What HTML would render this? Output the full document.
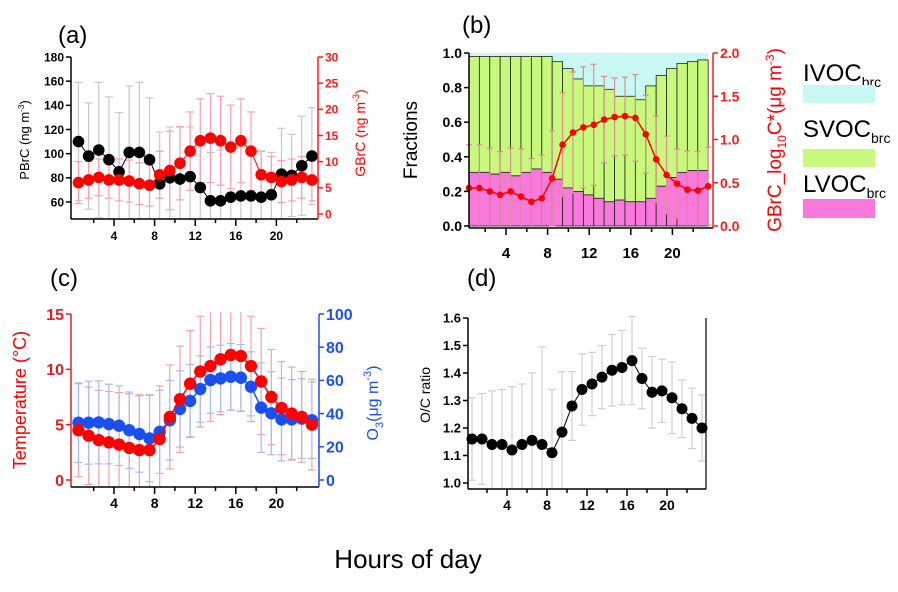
<!DOCTYPE html>
<html><head><meta charset="utf-8"><style>
html,body{margin:0;padding:0;background:#fff;}
svg{display:block;font-family:"Liberation Sans",Arial,sans-serif;}
</style></head><body>
<svg id="fig" width="898" height="592" viewBox="0 0 898 592" xmlns="http://www.w3.org/2000/svg">
<text x="408" y="568" font-size="26" text-anchor="middle">Hours of day</text>
<text x="58" y="43" font-size="24">(a)</text>
<text x="462" y="33" font-size="24">(b)</text>
<text x="50" y="286" font-size="24">(c)</text>
<text x="467" y="286" font-size="24">(d)</text>
<g>
<text x="803" y="81" font-size="24">IVOC<tspan font-size="14" dy="6">brc</tspan></text>
<rect x="803" y="85" width="72" height="18" fill="#c8f8f4"/>
<text x="803" y="137" font-size="24">SVOC<tspan font-size="14" dy="6">brc</tspan></text>
<rect x="803" y="149" width="72" height="18" fill="#c8f87c"/>
<text x="803" y="192" font-size="24">LVOC<tspan font-size="14" dy="6">brc</tspan></text>
<rect x="803" y="199" width="72" height="19" fill="#f878dc"/>
</g>
</svg>
<script>
const hours = [1,2,3,4,5,6,7,8,9,10,11,12,13,14,15,16,17,18,19,20,21,22,23,24];
const xTicks = [4,8,12,16,20];
// panel a
const pbrc = [110,98,103,95,85,101,101,95,75,80,79,81,72,61,61,64,65,65,64,66,83,82,90,98];
const pbrcErr = [49,44,56,52,49,55,58,51,43,42,43,41,42,40,42,40,40,40,38,35,38,34,41,40];
const gbrc = [6,6.5,7,6.5,6.5,6.3,5.8,5.5,7.5,8.3,9.7,12,14,14.5,14,12.8,14,12,7.5,7,6.2,6.5,7,6.5];
const gbrcErr = [4,3.5,3.5,3.5,4,4,4,4,4.5,7.5,7,7.5,8,8.5,8.5,8,8,7.5,4.5,4,4,4,4,4];
const aLeftTicks = [60,80,100,120,140,160,180];
const aRightTicks = [0,5,10,15,20,25,30];
// panel b
const lvoc = [0.31,0.31,0.30,0.31,0.29,0.31,0.33,0.31,0.27,0.22,0.20,0.18,0.16,0.14,0.15,0.14,0.14,0.16,0.23,0.28,0.31,0.32,0.32];
const svocTotal = [0.98,0.98,0.98,0.98,0.98,0.98,0.98,0.98,0.95,0.91,0.85,0.81,0.81,0.79,0.75,0.75,0.73,0.81,0.87,0.91,0.94,0.95,0.96];
const gbrcLog = [0.44,0.44,0.40,0.36,0.40,0.34,0.28,0.32,0.55,0.94,1.08,1.14,1.17,1.23,1.26,1.27,1.25,1.06,0.77,0.59,0.49,0.42,0.41,0.46];
const gbrcLogErr = [0.5,0.5,0.5,0.5,0.5,0.55,0.5,0.5,0.55,0.6,0.7,0.7,0.7,0.5,0.45,0.45,0.5,0.45,0.5,0.45,0.4,0.45,0.45,0.45];
const bLeftTicks = [0,0.2,0.4,0.6,0.8,1.0];
const bRightTicks = [0,0.5,1.0,1.5,2.0];
// panel c
const temp = [4.5,4.0,3.6,3.4,3.2,2.9,2.7,2.7,3.7,5.7,7.3,8.7,9.8,10.3,10.9,11.3,11.2,10.3,8.9,7.5,6.5,6.0,5.7,5.0];
const tempErr = [4.2,4.4,4.5,4.6,4.7,4.9,5,5,4.8,4.7,4.8,4.8,5,5,5,5,5,4.5,4.8,4.3,4.2,4.2,4.1,4.1];
const o3 = [34.5,34.5,34.7,33.7,32.7,30,27.7,25,29,36,42.8,47.6,54.8,60.2,61.2,62.2,61.6,56.2,43.6,40.2,36.5,36.5,37,36];
const o3Err = [24,25,25,24,24,23,23,26,25,24,23,22,20,20,20,20,20,21,27,25,25,24,24,23];
const cLeftTicks = [0,5,10,15];
const cRightTicks = [0,20,40,60,80,100];
// panel d
const oc = [1.16,1.16,1.14,1.14,1.12,1.14,1.155,1.14,1.11,1.185,1.28,1.34,1.36,1.385,1.41,1.42,1.445,1.38,1.33,1.335,1.31,1.27,1.235,1.20];
const ocErr = [0.15,0.165,0.195,0.2,0.23,0.22,0.245,0.355,0.23,0.22,0.125,0.13,0.115,0.115,0.13,0.135,0.16,0.11,0.13,0.115,0.13,0.105,0.11,0.12];
const dLeftTicks = [1.0,1.1,1.2,1.3,1.4,1.5,1.6];

const svg = document.getElementById('fig');
const NS = 'http://www.w3.org/2000/svg';
function mk(tag, attrs, parent){const e=document.createElementNS(NS,tag);for(const k in attrs)e.setAttribute(k,attrs[k]);(parent||svg).appendChild(e);return e;}
function clamp(v,a,b){return Math.max(a,Math.min(b,v));}

function axes(o){
  let g = mk('g',{});
  
  
  let l = mk('line',{x1:o.x0,y1:o.yTop,x2:o.x0,y2:o.yBottom,stroke:o.leftColor,'stroke-width':1.5},g);
  
  
  let b = mk('line',{x1:o.x0,y1:o.yBottom,x2:o.x1,y2:o.yBottom,stroke:'#000','stroke-width':1.5},g);
  
  
  if(o.rightColor){
    let r = mk('line',{x1:o.x1,y1:o.yTop,x2:o.x1,y2:o.yBottom,stroke:o.rightColor,'stroke-width':1.5},g);
    
    
  }
  o.leftTicks.forEach(v=>{
    const y=o.yl(v);
    mk('line',{x1:o.x0-5,y1:y,x2:o.x0,y2:y,stroke:o.leftColor,'stroke-width':1.5},g);
    let t=mk('text',{x:o.x0-7,y:y+o.fs*0.36,'font-size':o.fs,'font-weight':'bold','text-anchor':'end',fill:o.leftColor},g);
    t.textContent=o.fmtL(v);
    
    
  });
  if(o.rightTicks){
    o.rightTicks.forEach(v=>{
      const y=o.yr(v);
      mk('line',{x1:o.x1,y1:y,x2:o.x1+5,y2:y,stroke:o.rightColor,'stroke-width':1.5},g);
      let t=mk('text',{x:o.x1+7,y:y+o.fs*0.36,'font-size':o.fs,'font-weight':'bold','text-anchor':'start',fill:o.rightColor},g);
      t.textContent=o.fmtR(v);
      
      
    });
  }
  for(let t=2;t<=22;t+=2){
    const x=o.xs(t); if(x>o.x1) continue;
    const major = t%4===0;
    mk('line',{x1:x,y1:o.yBottom,x2:x,y2:o.yBottom+(major?7:4),stroke:'#000','stroke-width':1.5},g);
  }
  xTicks.forEach(t=>{
    let tx=mk('text',{x:o.xs(t),y:o.labelY,'font-size':o.xfs||o.fs,'font-weight':'bold','text-anchor':'middle'},g);
    tx.textContent=String(t);
    
    
  });
}
function errbars(name, xs, vals, errs, ys, color, yMin, yMax, cap){
  let g=mk('g',{stroke:color,'stroke-width':1.2,fill:'none'});
  
  
  vals.forEach((v,i)=>{
    const x=xs(i), y1=clamp(ys(v+errs[i]),yMin,yMax), y2=clamp(ys(v-errs[i]),yMin,yMax);
    mk('line',{x1:x,y1:y1,x2:x,y2:y2},g);
    if(ys(v+errs[i])>=yMin) mk('line',{x1:x-cap,y1:y1,x2:x+cap,y2:y1},g);
    if(ys(v-errs[i])<=yMax) mk('line',{x1:x-cap,y1:y2,x2:x+cap,y2:y2},g);
  });
}
function series(name, xs, vals, ys, color, r, lw){
  let g=mk('g',{});
  
  
  mk('polyline',{points:vals.map((v,i)=>xs(i)+','+ys(v)).join(' '),fill:'none',stroke:color,'stroke-width':lw},g);
  vals.forEach((v,i)=>{
    let c=mk('circle',{cx:xs(i),cy:ys(v),r:r,fill:color},g);
    
    
  });
}
function vtitle(name, x, y, fs, color, html){
  let t=mk('text',{x:x,y:y,'font-size':fs,fill:color,'text-anchor':'middle',transform:'rotate(-90 '+x+' '+y+')'});
  t.innerHTML=html;
  
  
}

// ---------- Panel A ----------
const xa = t => 114 + (t-4)*10.15;
const xaPt = i => xa(hours[i]-0.5);
const yaL = v => 202 - (v-60)*145/120;
const yaR = v => 214 - v*157/30;
errbars('pbrc-error-bars', xaPt, pbrc, pbrcErr, yaL, '#c8c8c8', 57, 219, 4);
errbars('gbrc-error-bars', xaPt, gbrc, gbrcErr, yaR, '#f7a0b4', 57, 219, 4);
series('pbrc-series', xaPt, pbrc, yaL, '#000', 5.8, 1);
series('gbrc-series', xaPt, gbrc, yaR, '#ff0000', 5.8, 1);
axes({name:'panel-a',x0:71,x1:318,yTop:57,yBottom:219,xs:xa,leftTicks:aLeftTicks,yl:yaL,leftColor:'#000',
  rightTicks:aRightTicks,yr:yaR,rightColor:'#ff1a1a',fs:12,labelY:240,fmtL:v=>v,fmtR:v=>v});
vtitle('panel-a-left-axis-title',29,140,13,'#000','PBrC (ng m<tspan font-size="8" dy="-5">-3</tspan><tspan dy="5">)</tspan>');
vtitle('panel-a-right-axis-title',365,133,14,'#ff0000','GBrC (ng m<tspan font-size="9" dy="-6">-3</tspan><tspan dy="6">)</tspan>');

// ---------- Panel B ----------
const xb = t => 506 + (t-4)*10.4;
const yb = v => 226 - v*173;
const ybR = v => 226 - v*86.5;
let bg=mk('g',{});


let ivocBg=mk('rect',{x:xb(0.44),y:yb(1),width:xb(23.44)-xb(0.44),height:yb(0)-yb(1),fill:'#c8f8f4'},bg);


lvoc.forEach((v,i)=>{
  const x0=xb(i+0.44), w=xb(i+1.44)-x0;
  let s=mk('rect',{x:x0,y:yb(svocTotal[i]),width:w,height:yb(v)-yb(svocTotal[i]),fill:'#c8f87c',stroke:'#222','stroke-width':0.8},bg);
  
  
  let p=mk('rect',{x:x0,y:yb(v),width:w,height:yb(0)-yb(v),fill:'#f878dc',stroke:'#222','stroke-width':0.8},bg);
  
  
});
const xbPt = i => xb(i+0.44);
errbars('gbrc-log-error-bars', xbPt, gbrcLog, gbrcLogErr, ybR, '#d89090', 53, 226, 3);
series('gbrc-log-series', xbPt, gbrcLog, ybR, '#ff0000', 3.3, 1.5);
axes({name:'panel-b',x0:469,x1:713,yTop:53,yBottom:228,xs:xb,leftTicks:bLeftTicks,yl:yb,leftColor:'#000',
  rightTicks:bRightTicks,yr:ybR,rightColor:'#ff1a1a',fs:14,xfs:15,labelY:258,fmtL:v=>v.toFixed(1),fmtR:v=>v.toFixed(1)});
vtitle('panel-b-left-axis-title',417,140,19,'#000','Fractions');
vtitle('panel-b-right-axis-title',781,140,19,'#ff0000','GBrC_log<tspan font-size="12" dy="5">10</tspan><tspan dy="-5">C*(μg m</tspan><tspan font-size="12" dy="-7">-3</tspan><tspan dy="7">)</tspan>');

// ---------- Panel C ----------
const xc = t => 114 + (t-4)*10.15;
const xcPt = i => xc(hours[i]-0.5);
const yc = v => 480 - v*166/15;
const ycR = v => 480 - v*1.66;
errbars('temperature-error-bars', xcPt, temp, tempErr, yc, '#f4a4a8', 312, 486, 4);
errbars('o3-error-bars', xcPt, o3, o3Err, ycR, '#a8bcf0', 312, 486, 4);
series('o3-series', xcPt, o3, ycR, '#1a50f0', 6.2, 1.5);
series('temperature-series', xcPt, temp, yc, '#ff0000', 6.2, 1.5);
axes({name:'panel-c',x0:71,x1:319,yTop:314,yBottom:487,xs:xc,leftTicks:cLeftTicks,yl:yc,leftColor:'#e02020',
  rightTicks:cRightTicks,yr:ycR,rightColor:'#1a50f0',fs:16,xfs:14,labelY:508,fmtL:v=>v,fmtR:v=>v});
vtitle('panel-c-left-axis-title',26,400,18,'#ff0000','Temperature (°C)');
vtitle('panel-c-right-axis-title',378,403,16,'#1a50f0','O<tspan font-size="11" dy="5">3</tspan><tspan dy="-5">(μg m</tspan><tspan font-size="11" dy="-7">-3</tspan><tspan dy="7">)</tspan>');

// ---------- Panel D ----------
const xd = t => 507 + (t-4)*10;
const xdPt = i => xd(hours[i]-0.5);
const yd = v => 483 - (v-1)*275;
errbars('oc-error-bars', xdPt, oc, ocErr, yd, '#d0d0d0', 312, 489, 4);
series('oc-series', xdPt, oc, yd, '#000', 5.5, 1);
axes({name:'panel-d',x0:468,x1:706,yTop:318,yBottom:489,xs:xd,leftTicks:dLeftTicks,yl:yd,leftColor:'#000',
  fs:13,xfs:14,labelY:510,fmtL:v=>v.toFixed(1)});
let frame=mk('line',{x1:706,y1:318,x2:706,y2:489,stroke:'#000','stroke-width':1.2});


vtitle('panel-d-left-axis-title',430,395,14,'#000','O/C ratio');
</script>
</body></html>
